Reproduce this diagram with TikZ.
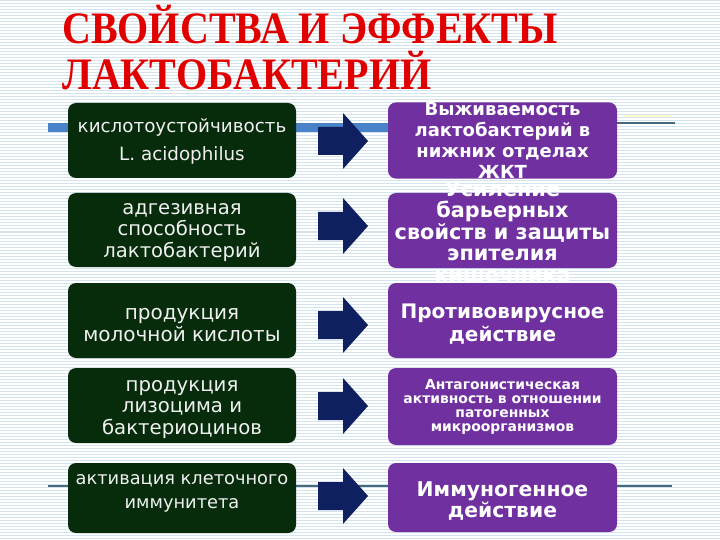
\documentclass[tikz,border=0pt]{standalone}
\usepackage{fontspec}
\setmainfont{DejaVu Sans}
\newfontfamily\titlefont[FakeStretch=0.89]{Liberation Serif}
\definecolor{dgreen}{RGB}{6,44,12}
\definecolor{vpurple}{RGB}{112,48,160}
\definecolor{navyarrow}{RGB}{14,32,96}
\definecolor{stripe}{RGB}{212,228,238}
\definecolor{barblue}{RGB}{72,130,200}
\definecolor{thinline}{RGB}{72,104,124}
\definecolor{titlered}{RGB}{225,0,0}
\begin{document}
\begin{tikzpicture}[x=1pt,y=-1pt,
  lbox/.style={fill=dgreen, rounded corners=8pt, minimum width=228pt, inner sep=0pt},
  ltext/.style={text=white!94!black, align=center, inner sep=0pt, font=\fontsize{19.6}{21.5}\selectfont},
  rbox/.style={fill=vpurple, rounded corners=8pt, minimum width=229pt, inner sep=0pt,
    text=white, align=center, font=\bfseries\fontsize{18}{21}\selectfont},
  rtext/.style={text=white, align=center, inner sep=0pt, font=\bfseries\fontsize{20.8}{21.5}\selectfont},
  blockarrow/.style={fill=navyarrow},
  titletext/.style={anchor=base west, inner sep=0pt, text=titlered,
    font=\titlefont\bfseries\fontsize{45}{45}\selectfont}
]
\useasboundingbox (0,0) rectangle (720,540);
\fill[white] (0,0) rectangle (720,540);
\foreach \yy in {1,4,...,540} \draw[stripe, line width=1pt] (0,\yy) -- (720,\yy);

% template lines
\draw[barblue, line width=8.5pt] (48,127.5) -- (390,127.5);
\draw[thinline, line width=1.5pt] (390,123) -- (675,123);
\draw[yellow!20!white, line width=1.5pt] (623,116) -- (672,116);
\draw[thinline, line width=1.2pt] (48,486) -- (672,486);

% title
\node[titletext] (t1) at (62,44) {СВОЙСТВА И ЭФФЕКТЫ};
\node[titletext] (t2) at (62,90) {ЛАКТОБАКТЕРИЙ};

% left boxes
\node[lbox, minimum height=75pt] (l1) at (182,140.5) {};
\node[ltext, font=\fontsize{18.3}{20.5}\selectfont] (l1t) at (182,141.5) {кислотоустойчивость\\[8pt]L. acidophilus};
\node[lbox, minimum height=74pt] (l2) at (182,230) {};
\node[ltext] (l2t) at (182,232.5) {адгезивная\\способность\\лактобактерий};
\node[lbox, minimum height=75pt] (l3) at (182,320.5) {};
\node[ltext, font=\fontsize{20}{22}\selectfont] (l3t) at (182,325) {продукция\\молочной кислоты};
\node[lbox, minimum height=75pt] (l4) at (182,405.5) {};
\node[ltext, font=\fontsize{19.7}{21.8}\selectfont] (l4t) at (182,409.5) {продукция\\лизоцима и\\бактериоцинов};
\node[lbox, minimum height=70pt] (l5) at (182,498) {};
\node[ltext, font=\fontsize{17.8}{24}\selectfont] (l5t) at (182,493) {активация клеточного\\иммунитета};

% right boxes
\node[rbox, minimum height=75pt] (r1) at (502.5,140.5) {Выживаемость\\лактобактерий в\\нижних отделах\\ЖКТ};
\node[rbox, minimum height=75pt] (r2) at (502.5,230.5) {};
\node[rtext] (r2t) at (502.5,232) {Усиление\\барьерных\\свойств и защиты\\эпителия\\кишечника};
\node[rbox, minimum height=75pt] (r3) at (502.5,320.5) {};
\node[rtext, font=\bfseries\fontsize{20}{23}\selectfont] (r3t) at (502.5,324.5) {Противовирусное\\действие};
\node[rbox, minimum height=77pt, font=\bfseries\fontsize{13.9}{14}\selectfont] (r4) at (502.5,406.5) {Антагонистическая\\активность в отношении\\патогенных\\микроорганизмов};
\node[rbox, minimum height=69pt] (r5) at (502.5,497.5) {};
\node[rtext, font=\bfseries\fontsize{20.3}{21}\selectfont] (r5t) at (502.5,500.5) {Иммуногенное\\действие};

% block arrows
\foreach \n/\yy in {1/141,2/226,3/325,4/406,5/496}{
  \coordinate (c\n) at (343,\yy);
  \fill[blockarrow, shift={(c\n)}] (-25,-14) -- (0,-14) -- (0,-28) -- (25,0) -- (0,28) -- (0,14) -- (-25,14) -- cycle;
}
\end{tikzpicture}
\end{document}
